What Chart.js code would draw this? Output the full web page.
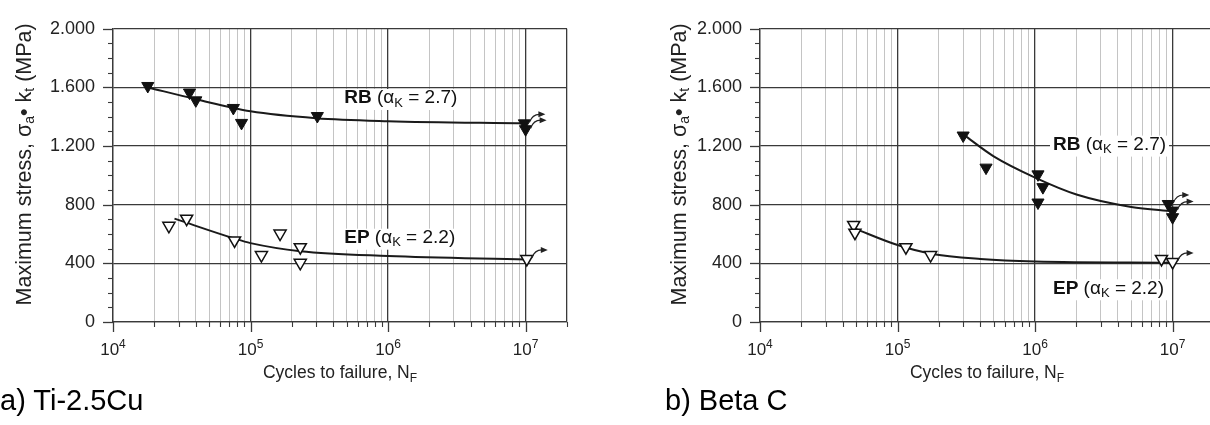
<!DOCTYPE html>
<html><head><meta charset="utf-8">
<script src="https://cdn.jsdelivr.net/npm/chart.js@4.4.0/dist/chart.umd.min.js"></script>
<style>
html,body{margin:0;padding:0;background:#fff;width:1210px;height:425px;overflow:hidden;}
#wrap{position:relative;width:1210px;height:425px;overflow:hidden;}
.cv{position:absolute;top:0;height:425px;}
.cap{position:absolute;font-family:"Liberation Sans",Arial,sans-serif;font-size:29px;color:#000;line-height:1;}
</style></head><body>
<div id="wrap">
<div class="cv" style="left:0;width:605px"><canvas id="c1" width="605" height="425"></canvas></div>
<div class="cv" style="left:605px;width:620px"><canvas id="c2" width="620" height="425"></canvas></div>
<div class="cap" style="left:0;top:386px">a) Ti-2.5Cu</div>
<div class="cap" style="left:665px;top:386px">b) Beta C</div>
</div>
<script>
// ---------- tick definitions ----------
const xDecadeExps = [4, 5, 6, 7];
const xMinorMult = [2, 3, 4, 5, 6, 7, 8, 9];
const xMin = 1e4, xMax = 2e7;
const yTickStep = 100;
const yLabelStep = 400;
const yMin = 0, yMax = 2000;

// ---------- a) Ti-2.5Cu ----------
const tiRB_N = [1.79e4, 3.6e4, 4.0e4, 7.5e4, 8.6e4, 3.06e5, 9.8e6, 1.0e7];
const tiRB_S = [1610, 1565, 1512, 1460, 1358, 1405, 1355, 1315];
const tiRB_runout = [6, 7];
const tiEP_N = [2.55e4, 3.43e4, 7.65e4, 1.2e5, 1.64e5, 2.3e5, 2.3e5, 1.02e7];
const tiEP_S = [656, 705, 556, 457, 603, 510, 404, 430];
const tiEP_runout = [7];
const tiRBfit_N = [1.8e4, 4e4, 1e5, 3e5, 1e6, 1e7];
const tiRBfit_S = [1600, 1520, 1437, 1390, 1370, 1355];
const tiEPfit_N = [2.8e4, 7.6e4, 1e5, 2.3e5, 1e6, 1e7];
const tiEPfit_S = [705, 570, 538, 483, 450, 426];

// ---------- b) Beta C ----------
const bcRB_N = [3.0e5, 4.4e5, 1.05e6, 1.14e6, 1.05e6, 9.3e6, 1.0e7, 1.0e7];
const bcRB_S = [1272, 1053, 1007, 920, 815, 805, 760, 715];
const bcRB_runout = [5, 6];
const bcEP_N = [4.8e4, 4.9e4, 1.15e5, 1.74e5, 8.3e6, 1.0e7];
const bcEP_S = [662, 609, 510, 457, 430, 410];
const bcEP_runout = [5];
const bcRBfit_N = [3e5, 5e5, 1e6, 2e6, 5e6, 1e7];
const bcRBfit_S = [1280, 1130, 985, 870, 785, 755];
const bcEPfit_N = [4.8e4, 1e5, 1.75e5, 4e5, 1e6, 1e7];
const bcEPfit_S = [640, 525, 466, 430, 413, 405];

const FONT = '"Liberation Sans", Arial, sans-serif';
const DARK = '#3a3a3a';
const LIGHT = '#c4c4c4';

function pts(N, S) { return N.map((n, i) => ({ x: n, y: S[i] })); }
function fmtY(v) {
  if (v >= 1000) { const r = v % 1000; return Math.floor(v / 1000) + '.' + String(r).padStart(3, '0'); }
  return String(v);
}
function isDecade(v) { const l = Math.log10(v); return Math.abs(l - Math.round(l)) < 1e-9; }

function xTicks() {
  const t = [];
  for (const e of xDecadeExps) {
    const d = Math.pow(10, e);
    t.push({ value: d, major: true });
    for (const m of xMinorMult) { const v = m * d; if (v <= xMax) t.push({ value: v, major: false }); }
  }
  return t;
}

function drawParts(ctx, parts, x, y) {
  let cx = x;
  for (const p of parts) {
    ctx.font = p.f;
    ctx.fillText(p.t, cx, y + (p.dy || 0));
    cx += ctx.measureText(p.t).width;
  }
  return cx - x;
}
function partsWidth(ctx, parts) {
  let w = 0;
  for (const p of parts) { ctx.font = p.f; w += ctx.measureText(p.t).width; }
  return w;
}

function labelParts(name, k) {
  return [
    { t: name, f: 'bold 19px ' + FONT },
    { t: ' (\u03b1', f: '19px ' + FONT },
    { t: 'K', f: '13px ' + FONT, dy: 5 },
    { t: ' = ' + k + ')', f: '19px ' + FONT }
  ];
}

function makeChart(id, cfg) {
  const canvas = document.getElementById(id);
  const plotLeft = cfg.plotLeft, plotRight = cfg.plotRight;
  const decor = {
    id: 'decor',
    beforeDatasetsDraw(chart) {
      const ctx = chart.ctx, xs = chart.scales.x, ys = chart.scales.y;
      ctx.save();
      ctx.textBaseline = 'middle';
      for (const L of cfg.labels) {
        const px = xs.getPixelForValue(L.x), py = ys.getPixelForValue(L.y);
        const parts = labelParts(L.name, L.k);
        const w = partsWidth(ctx, parts);
        ctx.fillStyle = '#fff';
        ctx.fillRect(px - 3, py - 9, w + 6, 21);
        ctx.fillStyle = '#111';
        drawParts(ctx, parts, px, py);
      }
      ctx.restore();
    },
    afterDraw(chart) {
      const ctx = chart.ctx, xs = chart.scales.x, ys = chart.scales.y;
      const a = chart.chartArea;
      ctx.save();
      ctx.strokeStyle = DARK;
      ctx.fillStyle = '#222';
      // y ticks
      for (let v = yMin; v <= yMax; v += yTickStep) {
        const py = Math.round(ys.getPixelForValue(v)) + 0.5;
        const major = v % yLabelStep === 0;
        ctx.lineWidth = major ? 1.3 : 1.1;
        ctx.beginPath();
        ctx.moveTo(a.left - (major ? 10 : 5), py);
        ctx.lineTo(a.left, py);
        ctx.stroke();
      }
      // x ticks
      for (const t of xTicks()) {
        const px = Math.round(xs.getPixelForValue(t.value)) + 0.5;
        if (px > a.right + 1) continue;
        ctx.lineWidth = t.major ? 1.3 : 1.1;
        ctx.beginPath();
        ctx.moveTo(px, a.bottom);
        ctx.lineTo(px, a.bottom + (t.major ? 10 : 5));
        ctx.stroke();
      }
      // x labels
      ctx.fillStyle = '#222';
      ctx.textAlign = 'left';
      ctx.textBaseline = 'alphabetic';
      for (const e of xDecadeExps) {
        const px = xs.getPixelForValue(Math.pow(10, e));
        const parts = [{ t: '10', f: '17px ' + FONT }, { t: String(e), f: '12px ' + FONT, dy: -7 }];
        const w = partsWidth(ctx, parts);
        drawParts(ctx, parts, px - w / 2, a.bottom + 33);
      }
      // x title
      {
        const parts = [{ t: 'Cycles to failure, N', f: '17.5px ' + FONT }, { t: 'F', f: '12px ' + FONT, dy: 4 }];
        const w = partsWidth(ctx, parts);
        drawParts(ctx, parts, (plotLeft + plotRight) / 2 - w / 2, a.bottom + 56);
      }
      // y title
      {
        ctx.save();
        ctx.translate(cfg.yTitleX, (a.top + a.bottom) / 2 - 11);
        ctx.rotate(-Math.PI / 2);
        const parts = [
          { t: 'Maximum stress, \u03c3', f: '21.5px ' + FONT },
          { t: 'a', f: '14px ' + FONT, dy: 5 },
          { t: '\u2022 k', f: '21.5px ' + FONT },
          { t: 't', f: '14px ' + FONT, dy: 5 },
          { t: ' (MPa)', f: '21.5px ' + FONT }
        ];
        const w = partsWidth(ctx, parts);
        ctx.textBaseline = 'middle';
        drawParts(ctx, parts, -w / 2, 0);
        ctx.restore();
      }
      // runout arrows
      ctx.strokeStyle = '#222';
      ctx.fillStyle = '#222';
      ctx.lineWidth = 1.2;
      for (const r of cfg.runouts) {
        const px = xs.getPixelForValue(r.x), py = ys.getPixelForValue(r.y);
        ctx.beginPath();
        ctx.moveTo(px + 5, py - 1);
        ctx.quadraticCurveTo(px + 8, py - 9, px + 15, py - 9);
        ctx.stroke();
        ctx.beginPath();
        ctx.moveTo(px + 21, py - 9);
        ctx.lineTo(px + 14, py - 12);
        ctx.lineTo(px + 14, py - 6);
        ctx.closePath();
        ctx.fill();
      }
      ctx.restore();
    }
  };

  const lineDs = (N, S) => ({
    type: 'line', data: pts(N, S), borderColor: '#1a1a1a', borderWidth: 2,
    pointRadius: 0, fill: false, cubicInterpolationMode: 'monotone', order: 2
  });
  const markDs = (N, S, filled) => ({
    type: 'scatter', data: pts(N, S), pointStyle: 'triangle', rotation: 180,
    pointRadius: 7, pointBorderWidth: filled ? 1 : 1.5,
    pointBackgroundColor: filled ? '#111' : '#fff', pointBorderColor: '#111', order: 1
  });

  return new Chart(canvas, {
    type: 'scatter',
    data: {
      datasets: [
        lineDs(cfg.rbFit[0], cfg.rbFit[1]),
        lineDs(cfg.epFit[0], cfg.epFit[1]),
        markDs(cfg.rb[0], cfg.rb[1], true),
        markDs(cfg.ep[0], cfg.ep[1], false)
      ]
    },
    options: {
      responsive: false, animation: false, devicePixelRatio: 1,
      layout: { padding: { left: 0, top: 20, right: canvas.width - plotRight, bottom: 425 - 322 - 60 } },
      plugins: { legend: { display: false }, tooltip: { enabled: false } },
      scales: {
        x: {
          type: 'logarithmic', min: xMin, max: xMax,
          afterBuildTicks(s) { s.ticks = xTicks(); },
          afterFit(s) { s.height = 60; },
          ticks: { display: false },
          grid: {
            drawTicks: false,
            color: c => (c.tick && (isDecade(c.tick.value) || c.tick.value >= xMax)) ? DARK : LIGHT,
            lineWidth: c => (c.tick && (isDecade(c.tick.value) || c.tick.value >= xMax)) ? 1.3 : 1
          },
          border: { display: true, color: DARK, width: 1.3 }
        },
        y: {
          type: 'linear', min: yMin, max: yMax,
          afterFit(s) { s.width = plotLeft; },
          ticks: {
            stepSize: yTickStep, padding: 18, color: '#222',
            font: { family: FONT, size: 18 },
            callback: v => (v % yLabelStep === 0 ? fmtY(v) : '')
          },
          grid: {
            drawTicks: false,
            color: c => (c.tick && c.tick.value % yLabelStep === 0) ? DARK : 'rgba(0,0,0,0)',
            lineWidth: 1.3
          },
          border: { display: true, color: DARK, width: 1.3 }
        }
      }
    },
    plugins: [decor]
  });
}

makeChart('c1', {
  plotLeft: 113, plotRight: 567, yTitleX: 25,
  rb: [tiRB_N, tiRB_S], ep: [tiEP_N, tiEP_S],
  rbFit: [tiRBfit_N, tiRBfit_S], epFit: [tiEPfit_N, tiEPfit_S],
  labels: [{ name: 'RB', k: '2.7', x: 4.8e5, y: 1528 }, { name: 'EP', k: '2.2', x: 4.8e5, y: 575 }],
  runouts: tiRB_runout.map(i => ({ x: tiRB_N[i], y: tiRB_S[i] })).concat(tiEP_runout.map(i => ({ x: tiEP_N[i], y: tiEP_S[i] })))
});
makeChart('c2', {
  plotLeft: 155, plotRight: 609, yTitleX: 75,
  rb: [bcRB_N, bcRB_S], ep: [bcEP_N, bcEP_S],
  rbFit: [bcRBfit_N, bcRBfit_S], epFit: [bcEPfit_N, bcEPfit_S],
  labels: [{ name: 'RB', k: '2.7', x: 1.35e6, y: 1210 }, { name: 'EP', k: '2.2', x: 1.35e6, y: 230 }],
  runouts: bcRB_runout.map(i => ({ x: bcRB_N[i], y: bcRB_S[i] })).concat(bcEP_runout.map(i => ({ x: bcEP_N[i], y: bcEP_S[i] })))
});
</script>
</body></html>
